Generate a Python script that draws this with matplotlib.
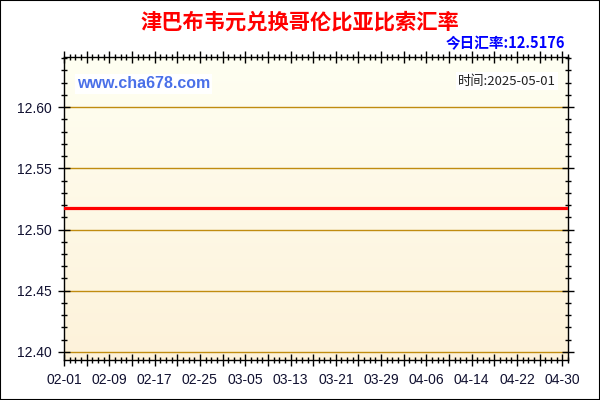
import numpy as np
import pandas as pd
import matplotlib
matplotlib.use("Agg")
import matplotlib.pyplot as plt
import matplotlib.dates as mdates
from matplotlib.ticker import MultipleLocator, FixedLocator
from matplotlib.patches import Rectangle

title = "津巴布韦元兑换哥伦比亚比索汇率"
today_rate = "今日汇率:12.5176"
site = "www.cha678.com"
stamp = "时间:2025-05-01"

# daily rate, flat over the whole period
dates = pd.date_range("2025-02-01", "2025-05-01", freq="D")
rates = np.full(len(dates), 12.5176)

ytick_vals = [12.40, 12.45, 12.50, 12.55, 12.60]
xtick_labels = ["02-01", "02-09", "02-17", "02-25", "03-05", "03-13",
                "03-21", "03-29", "04-06", "04-14", "04-22", "04-30"]

cjk = ["Noto Sans CJK SC", "DejaVu Sans"]
latin = ["Liberation Sans", "DejaVu Sans"]

fig = plt.figure(figsize=(6, 4), dpi=100)
fig.patch.set_facecolor("white")
fig.patches.append(Rectangle((0, 0), 1, 1, transform=fig.transFigure,
                             fill=False, edgecolor="black", linewidth=1.5))

ax = fig.add_axes([64 / 600, 1 - 360 / 400, (568 - 64) / 600, (360 - 57) / 400])

# background gradient, pale cream at top to warmer beige at bottom
grad = np.linspace(0, 1, 256).reshape(-1, 1)
top = np.array([255, 255, 242]) / 255
bot = np.array([253, 242, 218]) / 255
img = top + (bot - top) * grad[:, :, None]
ax.imshow(img, extent=[0, 1, 0, 1], transform=ax.transAxes, aspect="auto", zorder=0)

for y in ytick_vals:
    ax.axhline(y, color="#c08c10", linewidth=1, zorder=1)

ax.plot(dates, rates, color="#ff0000", linewidth=2.3, zorder=3)

ax.set_xlim(dates[0], dates[-1])
ax.set_ylim(12.3934, 12.641)

major_x = [dates[0] + pd.Timedelta(days=4 * i) for i in range(23)]
ax.xaxis.set_major_locator(FixedLocator(mdates.date2num(major_x)))
labels = []
for i in range(len(major_x)):
    labels.append(xtick_labels[i // 2] if i % 2 == 0 else "")
ax.set_xticklabels(labels)
ax.xaxis.set_minor_locator(mdates.DayLocator())

ax.yaxis.set_major_locator(FixedLocator(ytick_vals))
ax.set_yticklabels([f"{v:.2f}" for v in ytick_vals])
ax.yaxis.set_minor_locator(MultipleLocator(0.01))

ax.tick_params(axis="both", which="major", direction="inout", length=8, width=1,
               labelsize=10, colors="black", labelcolor="#101030", pad=5,
               top=True, right=True)
ax.tick_params(axis="both", which="minor", direction="inout", length=4, width=1,
               top=True, right=True)
for lab in ax.get_xticklabels() + ax.get_yticklabels():
    lab.set_family(latin)

for s in ax.spines.values():
    s.set_color("black")
    s.set_linewidth(1)

fig.text(0.5, 1 - 22 / 400, title, ha="center", va="center", color="#ff0000",
         fontsize=15.3, fontweight="bold", family=cjk)
fig.text(565 / 600, 1 - 43 / 400, today_rate, ha="right", va="center", color="#0000ff",
         fontsize=10.5, fontweight="bold", family=cjk)

ax.text(77 / 600, 1 - 84 / 400, site, transform=fig.transFigure, ha="left", va="center",
        color="#4a70e8", fontsize=11.5, fontweight="bold", family=latin, zorder=4,
        bbox=dict(facecolor="white", edgecolor="none", pad=1.5))
ax.text(556 / 600, 1 - 81 / 400, stamp, transform=fig.transFigure, ha="right", va="center",
        color="#222222", fontsize=9.5, family=cjk, zorder=4,
        bbox=dict(facecolor="white", edgecolor="none", pad=1.5))

fig.savefig("out.png", dpi=100)
